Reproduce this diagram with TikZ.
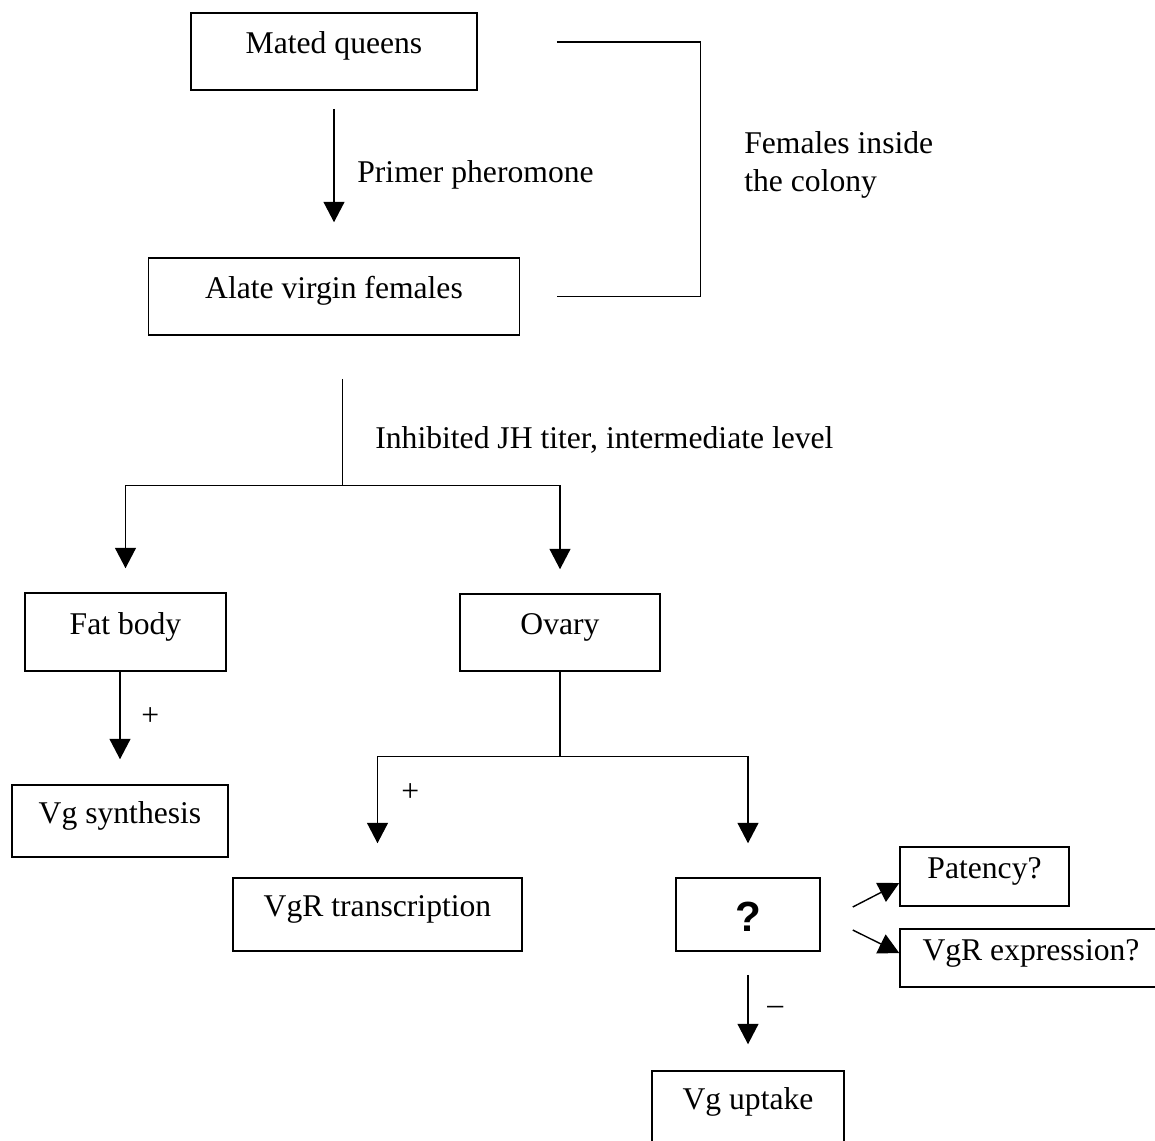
\documentclass[tikz,border=0pt]{standalone}
\usepackage{fontspec}
\setmainfont{Liberation Serif}
\newfontfamily\qfont{Liberation Sans}
\usepackage{tikz}
\usetikzlibrary{arrows,arrows.meta}

\begin{document}
\begin{tikzpicture}[
every node/.style={font=\fontsize{18}{22}\selectfont},
box/.style={draw,line width=0.85pt,inner sep=0pt,text height=0.32cm,text depth=0.24cm},
note/.style={anchor=base west,inner sep=0pt},
line/.style={line width=0.8pt},
arrow/.style={-{Triangle[length=0.41cm,width=0.42cm]},line width=0.8pt} ]

\useasboundingbox (0,0) rectangle (23.1,-22.8);

\node[box,minimum width=5.72cm,minimum height=1.54cm](queens) at (6.68,-1.03) {Mated queens};

\node[box,minimum width=7.42cm,minimum height=1.54cm](alate) at (6.68,-5.93) {Alate virgin females};

\node[box,minimum width=4.02cm,minimum height=1.56cm](fat) at (2.51,-12.64) {Fat body};

\node[box,minimum width=4.0cm,minimum height=1.54cm](ovary) at (11.2,-12.65) {Ovary};

\node[box,minimum width=4.32cm,minimum height=1.44cm](vgsyn) at (2.4,-16.42) {Vg synthesis};

\node[box,minimum width=5.78cm,minimum height=1.46cm](vgrt) at (7.55,-18.29) {VgR transcription};

\node[box,minimum width=2.88cm,minimum height=1.46cm,text height=0.66cm,text depth=0pt,font=\qfont\bfseries\fontsize{24}{28}\selectfont](unknown) at (14.96,-18.29) {?};

\node[box,minimum width=3.38cm,minimum height=1.18cm](patency) at (19.69,-17.53) {Patency?};

\node[box,minimum width=5.24cm,minimum height=1.16cm](vgrexp) at (20.62,-19.16) {VgR expression?};

\node[box,minimum width=3.84cm,minimum height=1.46cm](uptake) at (14.96,-22.15) {Vg uptake};

\node[note](primer) at (7.14,-3.64) {Primer pheromone};

\node[anchor=west,inner sep=0pt,align=left](colony) at (14.88,-3.3) {Females inside\\the colony};

\node[note](jh) at (7.5,-8.96) {Inhibited JH titer, intermediate level};

\node[note](fatplus) at (2.82,-14.5) {+};

\node[note](ovplus) at (8.02,-16.02) {+};

\node[note](minus) at (15.34,-20.28) {--};

\draw[arrow,shorten <=0.36cm,shorten >=0.7cm] (queens) -- (alate);

\draw[line] ([shift={(1.58,0.19)}]queens.east) -- ++(2.88,0) |- ([xshift=0.74cm]alate.east);

\draw[line] ([shift={(0.17,-0.86)}]alate.south) -- ++(0,-2.14) coordinate (jhfork);

\draw[arrow,shorten >=0.48cm] (jhfork) -| (fat);

\draw[arrow,shorten >=0.48cm] (jhfork) -| (ovary);

\draw[arrow,shorten >=0.5cm] (fat.south -| vgsyn) -- (vgsyn);

\draw[line] (ovary.south) -- ++(0,-1.7) coordinate (ovfork);

\draw[arrow,shorten >=0.68cm] (ovfork) -| (vgrt);

\draw[arrow,shorten >=0.68cm] (ovfork) -| (unknown);

\draw[arrow] ([shift={(0.64,0.15)}]unknown.east) -- ([yshift=-0.13cm]patency.west);

\draw[arrow] ([shift={(0.64,-0.31)}]unknown.east) -- ([yshift=0.1cm]vgrexp.west);

\draw[arrow,shorten <=0.46cm,shorten >=0.52cm] (unknown) -- (uptake);
\end{tikzpicture}
\end{document}
